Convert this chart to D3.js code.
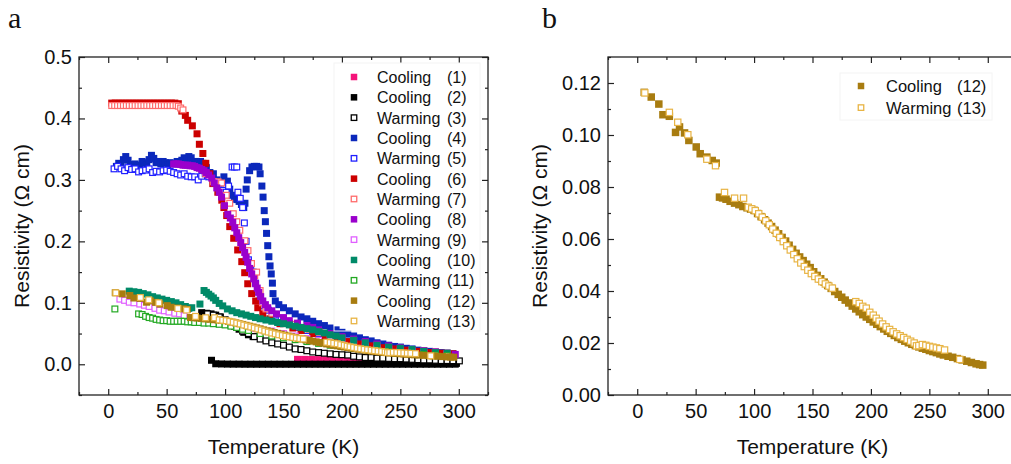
<html>
<head>
<meta charset='UTF-8'>
<script src="https://d3js.org/d3.v7.min.js"></script>
<style>
  body { margin: 0; background: #fff; }
  text { font-family: "Liberation Sans", Arial, sans-serif; fill: #111; }
</style>
</head>
<body>
<svg id="chart" width="1011" height="464"></svg>
<script>
// ---- data: [temperature K, resistivity ohm cm] ----
const s1 = [[162,0.008],[168,0.008],[174,0.0078],[180,0.0076],[186,0.0075],[192,0.0073],[198,0.0072],[204,0.007],[210,0.0068],[216,0.0066],[222,0.0064],[228,0.0062],[234,0.006],[240,0.0058],[246,0.0056],[252,0.0054],[258,0.0052],[264,0.005],[270,0.0048],[276,0.0046],[282,0.0044],[288,0.0042],[294,0.004]];
const s2 = [[80,0.084],[84,0.083],[88,0.082],[92,0.08],[96,0.077],[100,0.072],[104,0.067],[108,0.062],[112,0.057],[116,0.052],[120,0.048],[124,0.045],
  [88.4,0.0065],[92,0.0008],[97,0.0005],[102,0.0003],[107,0.0002],[112,0.0002],[117,0.0001],[122,0.0001],[127,0.0001],[132,0.0001],[137,0.0001],[142,0.0001],[147,0.0001],[152,0.0001],[157,0.0001],[162,0.0001],[167,0.0001],[172,0.0001],[177,0.0001],[182,0.0001],[187,0.0001],[192,0.0001],[197,0.0001],[202,0.0001],[207,0.0001],[212,0.0001],[217,0.0001],[222,0.0001],[227,0.0001],[232,0.0001],[237,0.0001],[242,0.0001],[247,0.0001],[252,0.0001],[257,0.0001],[262,0.0001],[267,0.0001],[272,0.0001],[277,0.0001],[282,0.0001],[287,0.0001],[292,0.0001],[297,0.0002],[298,0.0015]];
const s3 = [[85,0.082],[90,0.08],[95,0.077],[100,0.072],[105,0.066],[110,0.06],[115,0.054],[120,0.05],[125,0.045],[130,0.041],[135,0.038],[140,0.035],[145,0.033],[150,0.031],[155,0.028],[160,0.025],[165,0.024],[170,0.022],[175,0.02],[180,0.019],[185,0.018],[190,0.017],[195,0.016],[200,0.0155],[205,0.015],[210,0.013],[215,0.012],[220,0.011],[225,0.011],[230,0.01],[235,0.01],[240,0.0095],[245,0.009],[250,0.009],[255,0.0085],[260,0.008],[265,0.0075],[270,0.007],[275,0.007],[280,0.0065],[285,0.006],[290,0.006],[295,0.0058],[300.5,0.0055]];
const s4 = [[7,0.322],[9,0.327],[11,0.325],[13,0.333],[15,0.338],[17,0.332],[19,0.325],[21,0.322],[23,0.326],[25,0.321],[27,0.324],[29,0.33],[31,0.328],[33,0.325],[35,0.333],[37,0.34],[39,0.335],[41,0.328],[43,0.33],[45,0.326],[47,0.33],[49,0.328],[51,0.325],[53,0.328],[55,0.327],[57,0.326],[59,0.33],[61,0.328],[63,0.332],[65,0.336],[67,0.334],[69,0.338],[71,0.336],[73,0.33],[75,0.33],[77,0.329],[79,0.33],[81,0.327],[84,0.32],[87,0.312],[90,0.31],[93,0.3],[96,0.295],[99,0.305],[102,0.298],[104,0.285],[106,0.275],[108,0.27],[110,0.268],[112,0.265],[114,0.26],[116,0.255],[117,0.262],[118,0.285],[119,0.3],[121,0.315],[123,0.321],[125,0.322],[127,0.322],[129,0.321],[130,0.31],[131.5,0.29],[132.5,0.272],[133.5,0.25],[134.5,0.232],[135.5,0.213],[136.5,0.193],[137.5,0.175],[138.5,0.16],[139.5,0.147],[140.5,0.132],[141,0.115],[143,0.103],[146,0.097],[150,0.092],[155,0.087],[160,0.082],[165,0.077],[170,0.074],[175,0.07],[180,0.066],[185,0.063],[190,0.059],[195,0.056],[200,0.052],[205,0.049],[210,0.046],[215,0.043],[220,0.04],[225,0.038],[230,0.035],[235,0.033],[240,0.031],[245,0.029],[250,0.028],[255,0.026],[260,0.025],[265,0.023],[270,0.022],[275,0.021],[280,0.02],[285,0.019],[290,0.018],[295,0.017]];
const s5 = [[5,0.318],[8,0.322],[11,0.318],[14,0.315],[17,0.32],[20,0.317],[23,0.318],[26,0.313],[29,0.315],[32,0.316],[35,0.318],[38,0.312],[41,0.314],[44,0.313],[47,0.315],[50,0.316],[53,0.314],[56,0.312],[59,0.31],[62,0.308],[65,0.31],[68,0.306],[71,0.305],[74,0.305],[77,0.3],[80,0.306],[83,0.31],[86,0.305],[90,0.298],[94,0.29],[98,0.283],[101,0.28],[103,0.29],[106,0.321],[108,0.321],[110,0.321],[111,0.28],[113,0.27],[115,0.255],[116.5,0.23],[118,0.2],[120,0.17],[122,0.158],[124,0.15],[126,0.132],[128,0.118],[130,0.105],[133,0.095],[137,0.088],[142,0.08],[148,0.073],[155,0.066],[162,0.06],[170,0.055],[180,0.05],[190,0.045],[200,0.041],[210,0.037],[220,0.033],[230,0.03],[240,0.027],[250,0.025],[260,0.022],[270,0.02],[280,0.018],[290,0.017]];
const s6 = [[3,0.425],[6,0.425],[9,0.425],[12,0.425],[15,0.425],[18,0.425],[21,0.425],[24,0.425],[27,0.425],[30,0.425],[33,0.425],[36,0.425],[39,0.425],[42,0.425],[45,0.425],[48,0.425],[51,0.425],[54,0.425],[57,0.425],[60,0.424],[63,0.412],[66,0.405],[68,0.397],[72,0.388],[76,0.375],[78,0.358],[81,0.343],[83.5,0.327],[87,0.31],[89.5,0.294],[93.8,0.28],[97.2,0.267],[99,0.255],[101.4,0.242],[104,0.224],[107.4,0.205],[110.8,0.186],[114.3,0.167],[116.8,0.149],[119.4,0.131],[122.8,0.115],[126.2,0.103],[128,0.092],[132.3,0.082],[138.4,0.074],[147,0.066],[158,0.059],[165,0.055],[175,0.05],[185,0.045],[195,0.041],[205,0.037],[215,0.033],[225,0.03],[235,0.027],[245,0.025],[255,0.023],[265,0.021],[275,0.019],[285,0.018],[295,0.017]];
const s7 = [[3,0.421],[5.5,0.421],[8,0.421],[10.5,0.421],[13,0.421],[15.5,0.421],[18,0.421],[20.5,0.421],[23,0.421],[25.5,0.421],[28,0.421],[30.5,0.421],[33,0.421],[35.5,0.421],[38,0.421],[40.5,0.421],[43,0.421],[45.5,0.421],[48,0.421],[50.5,0.421],[53,0.421],[55.5,0.421],[58,0.421],[60,0.42],[62,0.417],[64,0.414],[83.5,0.31],[90,0.297],[94,0.297],[97,0.295],[101,0.275],[104,0.262],[107,0.245],[110,0.232],[112.6,0.218],[117,0.201],[119.6,0.185],[122.6,0.164],[125.4,0.144],[127,0.15],[130,0.12],[132,0.1],[135,0.09],[140,0.083],[150,0.072],[160,0.065],[172,0.057],[181,0.052],[190,0.048],[200,0.043],[210,0.039],[220,0.035],[230,0.031],[240,0.028],[250,0.026],[260,0.024],[270,0.022],[280,0.02],[290,0.018]];
const s8 = [[56,0.326],[58,0.326],[60,0.326],[62,0.325],[64,0.324],[66,0.324],[68,0.324],[70,0.323],[72,0.323],[74,0.322],[76,0.32],[78,0.319],[80,0.317],[82,0.315],[84,0.312],[86,0.308],[88.6,0.303],[90.8,0.295],[92.9,0.287],[95,0.28],[97,0.272],[99.5,0.258],[102.3,0.244],[104.5,0.238],[106.6,0.231],[108.3,0.222],[110,0.214],[111.7,0.206],[113.4,0.198],[115,0.19],[116.8,0.182],[118,0.174],[119.4,0.166],[121,0.156],[122.8,0.147],[124.5,0.139],[126.2,0.131],[127.5,0.124],[128.8,0.117],[130.5,0.11],[132.3,0.103],[134.5,0.097],[136.5,0.092],[140,0.087],[144,0.082],[150,0.076],[155,0.071],[162,0.067],[170,0.063],[175,0.06],[180,0.056],[190,0.05],[200,0.045],[210,0.041],[220,0.037],[230,0.033],[240,0.03],[250,0.027],[260,0.024],[270,0.022],[280,0.02],[290,0.018],[297,0.016]];
const s9 = [[10,0.106],[14,0.104],[18,0.101],[22,0.1],[27,0.098],[31,0.096],[35,0.094],[40,0.091],[44,0.088],[48,0.087],[52,0.085],[57,0.083],[61,0.082],[65,0.079],[70,0.075],[74,0.073],[78,0.071],[82,0.07],[87,0.068],[91,0.067],[95,0.066],[100,0.065],[105,0.063],[110,0.062],[115,0.06],[120,0.059],[125,0.058],[130,0.057],[140,0.054],[150,0.05],[160,0.046],[170,0.042],[180,0.039],[190,0.036],[200,0.033],[210,0.031],[220,0.028],[230,0.026],[240,0.024],[250,0.022],[260,0.02],[270,0.018],[280,0.017],[290,0.015]];
const s10 = [[18,0.119],[22,0.118],[26,0.117],[30,0.115],[34,0.113],[38,0.11],[42,0.108],[46,0.106],[50,0.104],[54,0.102],[58,0.1],[62,0.097],[66,0.094],[69,0.091],[71.5,0.092],[78.5,0.098],[82,0.12],[84,0.117],[86,0.114],[88,0.111],[90,0.108],[92,0.104],[95,0.099],[98,0.095],[102,0.09],[106,0.087],[110,0.084],[114,0.082],[118,0.08],[122,0.078],[126,0.076],[130,0.074],[135,0.072],[140,0.07],[145,0.068],[150,0.066],[155,0.064],[160,0.062],[165,0.06],[170,0.058],[175,0.056],[180,0.053],[185,0.051],[190,0.048],[195,0.046],[200,0.043],[210,0.039],[220,0.035],[230,0.031],[240,0.028],[250,0.026],[260,0.024],[270,0.021],[280,0.019],[290,0.018]];
const s11 = [[5.7,0.09],[26,0.082],[29,0.081],[32,0.078],[35,0.076],[38,0.075],[41,0.073],[44,0.072],[47,0.071],[50,0.071],[53,0.07],[56,0.07],[59,0.07],[62,0.07],[65,0.07],[68,0.069],[71,0.069],[74,0.068],[78,0.068],[82,0.067],[86,0.067],[90,0.066],[95,0.065],[100,0.064],[105,0.062],[110,0.06],[115,0.057],[120,0.055],[130,0.05],[140,0.046],[150,0.043],[160,0.04],[170,0.037],[180,0.034],[190,0.031],[200,0.029],[210,0.026],[220,0.024],[230,0.022],[240,0.02],[250,0.018],[260,0.017],[270,0.016],[280,0.015],[290,0.014]];
const s12 = [[6,0.1164],[12,0.1146],[18.5,0.1119],[22,0.1078],[27.5,0.1072],[32.8,0.101],[36.2,0.1031],[40.5,0.1008],[44.2,0.0979],[50.5,0.0954],[53.9,0.0928],[59.6,0.0915],[64.2,0.0902],[67.6,0.0892],[70.4,0.0761],[73,0.0758],[76,0.0753],[79.5,0.0745],[83.3,0.0738],[87,0.0732],[90.4,0.0725],[94,0.072],[97,0.0715],[100,0.071],[103,0.0698],[106,0.0686],[109,0.0674],[112,0.0661],[115,0.0648],[118,0.0634],[121,0.062],[124,0.0606],[127,0.0592],[130,0.0576],[133,0.056],[136,0.0545],[139,0.0531],[142,0.0517],[145,0.0503],[148,0.049],[151,0.0474],[154,0.046],[157,0.0447],[160,0.0434],[163,0.0421],[166,0.041],[169,0.0398],[172,0.0387],[175,0.0376],[178,0.0365],[181,0.0354],[184,0.0342],[187,0.0331],[190,0.032],[193,0.0309],[196,0.03],[199,0.0291],[202,0.0281],[205,0.0272],[208,0.0263],[211,0.0254],[214,0.0245],[217,0.0237],[220,0.0229],[223,0.0221],[226,0.0214],[229,0.0207],[232,0.0201],[235,0.0195],[238,0.019],[241,0.0185],[244,0.018],[247,0.0176],[250,0.0171],[253,0.0167],[256,0.0163],[259,0.0158],[262,0.0154],[266,0.0149],[270,0.0145],[274,0.014],[278,0.0135],[282,0.013],[286,0.0125],[290,0.012],[293,0.0117],[295.7,0.0115]];
const s13 = [[6.5,0.1162],[27.5,0.1087],[34.7,0.1049],[43.3,0.1001],[59.6,0.0907],[67,0.0882],[74.7,0.0779],[83.3,0.0757],[91,0.0757],[95,0.0722],[98,0.0716],[101,0.0709],[104,0.0697],[107,0.0684],[110,0.067],[113,0.0655],[116,0.0638],[119,0.0622],[122,0.0606],[125,0.059],[128,0.0574],[131,0.0558],[134,0.054],[137,0.0524],[140,0.0508],[143,0.0494],[146,0.048],[149,0.0467],[152,0.0456],[155,0.0446],[158,0.0436],[161,0.0427],[164,0.0419],[167,0.0411],[187,0.0359],[190,0.0352],[193,0.0341],[196,0.0334],[199,0.0318],[202,0.0307],[204.5,0.0295],[207,0.0284],[210,0.0273],[213,0.0262],[216,0.0252],[219,0.0243],[222,0.0235],[225,0.0228],[228,0.0221],[231,0.0214],[234,0.0207],[237,0.02],[239,0.0189],[241,0.019],[244,0.0194],[247,0.0191],[250,0.0187],[253,0.0184],[256,0.0181],[259,0.0178],[263,0.0173],[276,0.0137]];

const runNames = ['Cooling','Cooling','Warming','Cooling','Warming','Cooling','Warming','Cooling','Warming','Cooling','Warming','Cooling','Warming'];
const runNums = ['(1)','(2)','(3)','(4)','(5)','(6)','(7)','(8)','(9)','(10)','(11)','(12)','(13)'];
const runColors = ['#f5137a','#000000','#000000','#0b28bb','#1f1fff','#cc0000','#ff6b6b','#9a00cc','#e060ff','#008a68','#22a822','#a87c10','#e8b444'];
const runOpen = [false,false,true,false,true,false,true,false,true,false,true,false,true];
const runData = [s1,s2,s3,s4,s5,s6,s7,s8,s9,s10,s11,s12,s13];

const xMajor = [0,50,100,150,200,250,300];
const xMinor = [-25,25,75,125,175,225,275,325];
const yMajorA = [0,0.1,0.2,0.3,0.4,0.5];
const yMinorA = [-0.05,0.05,0.15,0.25,0.35,0.45];
const yMajorB = [0,0.02,0.04,0.06,0.08,0.1,0.12];
const yMinorB = [0.01,0.03,0.05,0.07,0.09,0.11,0.13];

const svg = d3.select('svg#chart');

function panel(left, yDomain, yMajor, yMinor, yFmt, runs, size, leg) {
  const top = 57, W = 409, H = 338;
  const x = d3.scaleLinear().domain([-25, 325]).range([0, W]);
  const y = d3.scaleLinear().domain(yDomain).range([H, 0]);
  const g = svg.append('g').attr('transform', `translate(${left},${top})`);

  // data, open squares get a white fill like the original plot
  runs.forEach(i => {
    const o = runOpen[i], h = o ? size - 1.2 : size;
    g.append('g').selectAll('rect').data(runData[i]).join('rect')
      .attr('x', d => x(d[0]) - h / 2)
      .attr('y', d => y(d[1]) - h / 2)
      .attr('width', h).attr('height', h)
      .attr('fill', o ? '#fff' : runColors[i])
      .attr('stroke', o ? runColors[i] : 'none')
      .attr('stroke-width', 1.2);
  });

  // ticks on 4 sides, inward
  const axes = [
    [d3.axisBottom, `translate(0,${H})`, x, xMajor, xMinor, true],
    [d3.axisTop, 'translate(0,0)', x, xMajor, xMinor, false],
    [d3.axisLeft, 'translate(0,0)', y, yMajor, yMinor, true],
    [d3.axisRight, `translate(${W},0)`, y, yMajor, yMinor, false]
  ];
  axes.forEach(([ax, tr, sc, maj, min, lab]) => {
    const a = g.append('g').attr('transform', tr)
      .call(ax(sc).tickValues(maj).tickSize(-6).tickSizeOuter(0).tickPadding(ax === d3.axisLeft ? 7 : 9)
        .tickFormat(lab ? (sc === x ? d3.format('d') : yFmt) : ''));
    a.select('.domain').remove();
    a.selectAll('line').attr('stroke', '#222').attr('stroke-width', 1.2);
    a.selectAll('text').style('font-size', '20px').attr('fill', '#111').attr('font-family', '"Liberation Sans", Arial, sans-serif');
    const b = g.append('g').attr('transform', tr)
      .call(ax(sc).tickValues(min).tickSize(-3).tickSizeOuter(0).tickFormat(''));
    b.select('.domain').remove();
    b.selectAll('line').attr('stroke', '#222').attr('stroke-width', 1.2);
  });
  g.append('rect').attr('width', W).attr('height', H)
    .attr('fill', 'none').attr('stroke', '#222').attr('stroke-width', 1.3);

  // axis titles
  g.append('text').attr('x', W / 2).attr('y', H + 59).attr('text-anchor', 'middle')
    .style('font-size', '21px').text('Temperature (K)');
  g.append('text').attr('transform', `translate(${leg.ytx},${H / 2}) rotate(-90)`)
    .attr('text-anchor', 'middle').attr('dy', '0.35em')
    .style('font-size', '21px').text('Resistivity (Ω cm)');

  // legend
  svg.append('rect').attr('x', leg.box[0]).attr('y', leg.box[1]).attr('width', leg.box[2]).attr('height', leg.box[3])
    .attr('fill', 'none').attr('stroke', '#f4f4f4');
  runs.forEach((i, k) => {
    const cy = leg.y0 + k * leg.dy, o = runOpen[i], s = o ? 5.5 : 6.5;
    svg.append('rect').attr('x', leg.mx - s / 2).attr('y', cy - s / 2)
      .attr('width', s).attr('height', s)
      .attr('fill', o ? '#fff' : runColors[i]).attr('stroke', o ? runColors[i] : 'none').attr('stroke-width', 1.3);
    svg.append('text').attr('x', leg.tx).attr('y', cy + 6).style('font-size', leg.fs).text(runNames[i]);
    svg.append('text').attr('x', leg.nx).attr('y', cy + 6).style('font-size', leg.fs).text(runNums[i]);
  });
}

panel(79, [-0.05, 0.5], yMajorA, yMinorA, d3.format('.1f'), d3.range(13), 7,
  { ytx: -57, mx: 354, tx: 377, nx: 447, y0: 77, dy: 20.33, fs: '16px', box: [334, 63, 146, 268] });
panel(608, [0, 0.13], yMajorB, yMinorB, d3.format('.2f'), [11, 12], 7.5,
  { ytx: -68, mx: 861, tx: 886, nx: 957, y0: 86, dy: 21.6, fs: '16.5px', box: [840, 73, 152, 47] });

// panel letters
svg.append('text').attr('x', 8).attr('y', 28).style('font-family', '"Liberation Serif", "Times New Roman", serif').style('font-size', '30px').text('a');
svg.append('text').attr('x', 542).attr('y', 28).style('font-family', '"Liberation Serif", "Times New Roman", serif').style('font-size', '30px').text('b');
</script>
</body>
</html>
